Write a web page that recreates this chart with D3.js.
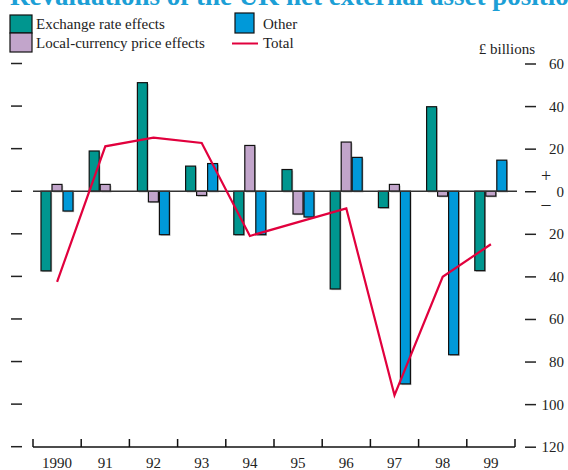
<!DOCTYPE html>
<html><head><meta charset="utf-8">
<script src="https://cdn.jsdelivr.net/npm/d3@7"></script>
<style>body{margin:0;background:#fff}svg{display:block}text{font-family:"Liberation Serif","Times New Roman",serif}</style>
</head><body><svg id="c" width="568" height="470"></svg>
<script>
const years = ["1990","91","92","93","94","95","96","97","98","99"];
const exchangeRate = [-37.4, 18.9, 51, 11.8, -20.4, 10.2, -45.9, -7.7, 39.7, -37.3];
const localPrice = [3.2, 3.2, -5, -2, 21.5, -10.7, 23.1, 3.2, -2.3, -2.3];
const other = [-9.3, 0, -20.4, 13, -20.4, -12.1, 15.9, -90.5, -76.8, 14.6];
const total = [-42.6, 21.1, 25.2, 22.7, -21, -14.5, -8.1, -95.8, -40.2, -24.9];
const yTicks = [60, 40, 20, 0, -20, -40, -60, -80, -100, -120];
const seriesNames = ["Exchange rate effects", "Local-currency price effects", "Other", "Total"];
const colors = {ex:"#00968f", lp:"#c2a5cb", ot:"#0099d9", tot:"#e1003d"};

const svg = d3.select("#c");
const x = d3.scaleBand().domain(years).range([33, 515]).padding(0);
const y = d3.scaleLinear().domain([-120, 60]).range([446.7, 63.5]);

// title (clipped at top, as in the reference)
svg.append("text").attr("x", 10).attr("y", 5).attr("font-size", 27).attr("font-weight", "bold")
  .attr("fill", "#1c9fd6").text("Revaluations of the UK net external asset position");

// left ticks
svg.append("g").selectAll("line").data(yTicks).join("line")
  .attr("x1", 11).attr("x2", 22).attr("y1", d => y(d)).attr("y2", d => y(d))
  .attr("stroke", "#222").attr("stroke-width", 1.5);
// right axis
const ra = svg.append("g").attr("transform", "translate(536,0)")
  .call(d3.axisLeft(y).tickValues(yTicks).tickSize(11).tickFormat(""));
ra.select(".domain").remove();
ra.selectAll(".tick line").attr("stroke", "#222").attr("stroke-width", 1.5);
svg.append("g").selectAll("text").data(yTicks).join("text")
  .attr("x", 564).attr("y", d => y(d) + 5.5).attr("text-anchor", "end").attr("font-size", 15)
  .attr("fill", "#222").text(d => Math.abs(d));
svg.append("text").attr("x", 546).attr("y", y(0) - 9).attr("text-anchor", "middle").attr("font-size", 18).attr("fill", "#222").text("+");
svg.append("text").attr("x", 546).attr("y", y(0) + 19).attr("text-anchor", "middle").attr("font-size", 18).attr("fill", "#222").text("\u2013");
svg.append("text").attr("x", 535).attr("y", 54).attr("text-anchor", "end").attr("font-size", 15).attr("fill", "#222").text("£ billions");

// bars
const bw = 10, off = [8, 19, 30];
const groups = [[exchangeRate, colors.ex], [localPrice, colors.lp], [other, colors.ot]];
groups.forEach(([vals, col], i) => {
  const data = years.map((yr, j) => ({yr, v: vals[j]})).filter(d => d.v !== 0);
  const g = svg.append("g");
  g.selectAll("rect.sh").data(data).join("rect")
    .attr("x", d => x(d.yr) + off[i] + 1.2).attr("width", bw)
    .attr("y", d => Math.min(y(d.v), y(0)) + 1.2).attr("height", d => Math.abs(y(d.v) - y(0)))
    .attr("fill", "#bbb");
  g.selectAll("rect.b").data(data).join("rect")
    .attr("x", d => x(d.yr) + off[i]).attr("width", bw)
    .attr("y", d => Math.min(y(d.v), y(0))).attr("height", d => Math.abs(y(d.v) - y(0)))
    .attr("fill", col).attr("stroke", "#111").attr("stroke-width", 1.2);
});

// zero line
svg.append("line").attr("x1", 33).attr("x2", 517).attr("y1", y(0)).attr("y2", y(0))
  .attr("stroke", "#333").attr("stroke-width", 1.4);

// total line
svg.append("path").datum(total)
  .attr("d", d3.line().x((d, i) => x(years[i]) + x.bandwidth() / 2).y(d => y(d)))
  .attr("fill", "none").attr("stroke", colors.tot).attr("stroke-width", 2.2).attr("stroke-linejoin", "miter");

// x axis
const xa = svg.append("g").attr("transform", "translate(0,447)")
  .call(d3.axisTop(x).tickSize(0).tickFormat(""));
xa.select(".domain").attr("stroke", "#111").attr("stroke-width", 1.5).attr("d", "M33,0H515");
const edges = years.map(d => x(d)).concat([x.range()[1]]);
svg.append("g").selectAll("line").data(edges).join("line")
  .attr("x1", d => d).attr("x2", d => d).attr("y1", 439).attr("y2", 447)
  .attr("stroke", "#111").attr("stroke-width", 1.5);
svg.append("g").selectAll("text").data(years).join("text")
  .attr("x", d => x(d) + x.bandwidth() / 2).attr("y", 468).attr("text-anchor", "middle")
  .attr("font-size", 15).attr("fill", "#222").text(d => d);

// legend
const lg = svg.append("g");
lg.append("rect").attr("x", 10).attr("y", 15).attr("width", 22).attr("height", 18).attr("fill", colors.ex).attr("stroke", "#111").attr("stroke-width", 1.2);
lg.append("rect").attr("x", 10).attr("y", 33).attr("width", 22).attr("height", 19).attr("fill", colors.lp).attr("stroke", "#111").attr("stroke-width", 1.2);
lg.append("rect").attr("x", 235).attr("y", 13).attr("width", 19).attr("height", 20).attr("fill", colors.ot).attr("stroke", "#111").attr("stroke-width", 1.2);
lg.append("line").attr("x1", 232).attr("x2", 258).attr("y1", 43.5).attr("y2", 43.5).attr("stroke", colors.tot).attr("stroke-width", 2);
lg.append("text").attr("x", 36).attr("y", 29).attr("font-size", 15).attr("fill", "#222").text(seriesNames[0]);
lg.append("text").attr("x", 36).attr("y", 48).attr("font-size", 15).attr("fill", "#222").text(seriesNames[1]);
lg.append("text").attr("x", 263).attr("y", 29).attr("font-size", 15).attr("fill", "#222").text(seriesNames[2]);
lg.append("text").attr("x", 263).attr("y", 48).attr("font-size", 15).attr("fill", "#222").text(seriesNames[3]);
</script></body></html>
